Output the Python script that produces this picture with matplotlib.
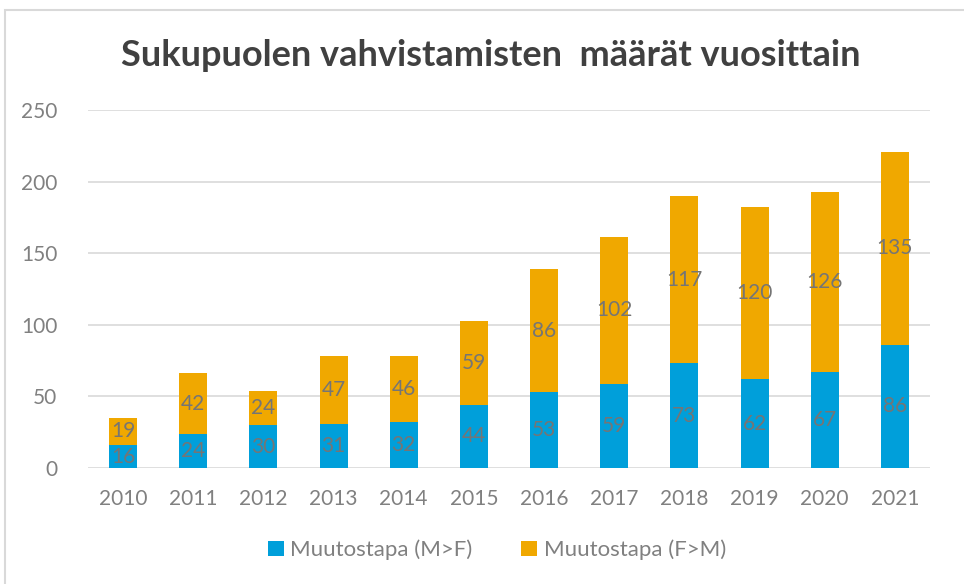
import matplotlib
matplotlib.use("Agg")
import matplotlib.pyplot as plt
from matplotlib.patches import Rectangle
import numpy as np

years = ["2010", "2011", "2012", "2013", "2014", "2015", "2016", "2017", "2018", "2019", "2020", "2021"]
m_to_f = [16, 24, 30, 31, 32, 44, 53, 59, 73, 62, 67, 86]
f_to_m = [19, 42, 24, 47, 46, 59, 86, 102, 117, 120, 126, 135]
labels = ["Muutostapa (M>F)", "Muutostapa (F>M)"]
title = "Sukupuolen vahvistamisten  määrät vuosittain"

blue = "#009FDA"
orange = "#F0A800"
gray_text = "#757575"
grid_col = "#D9D9D9"

plt.rcParams['font.family'] = ['Lato', 'DejaVu Sans']

fig = plt.figure(figsize=(9.64, 5.84), dpi=100)
fig.patch.set_facecolor("white")
# outer chart frame (cropped screenshot)
fig.add_artist(Rectangle((5/964, -0.05), 1.1, (584-10)/584 + 0.05, transform=fig.transFigure,
                         fill=False, edgecolor="#D9D9D9", linewidth=1.5))

ax = fig.add_axes([88/964, 1-468/584, (930-88)/964, (468-110)/584])
x = np.arange(len(years))
w = 0.4
b1 = ax.bar(x, m_to_f, w, color=blue, label=labels[0], zorder=3)
b2 = ax.bar(x, f_to_m, w, bottom=m_to_f, color=orange, label=labels[1], zorder=3)
ax.bar_label(b1, label_type="center", color=gray_text, fontsize=15, zorder=4)
ax.bar_label(b2, label_type="center", color=gray_text, fontsize=15, zorder=4)

ax.set_ylim(0, 250)
ax.set_xlim(-0.5, len(years) - 0.5)
ax.set_yticks(range(0, 251, 50))
ax.set_xticks(x)
ax.set_xticklabels(years)
ax.tick_params(axis="both", length=0, labelcolor="#808080", labelsize=15)
ax.tick_params(axis="y", pad=22)
ax.tick_params(axis="x", pad=15)
ax.grid(axis="y", color=grid_col, linewidth=1.2, zorder=0)
for s in ax.spines.values():
    s.set_visible(False)

fig.text(491/964, 1-55/584, title, ha="center", va="center", fontsize=26, fontweight="bold", color="#404040")

fig.legend(handles=[b1, b2], labels=labels, loc="center", bbox_to_anchor=(497/964, 1-550/584), ncol=2,
           frameon=False, fontsize=16, labelcolor="#808080", handlelength=0.7, handleheight=0.7,
           handletextpad=0.3, columnspacing=2.2)

fig.savefig("out.png", dpi=100, facecolor="white")
